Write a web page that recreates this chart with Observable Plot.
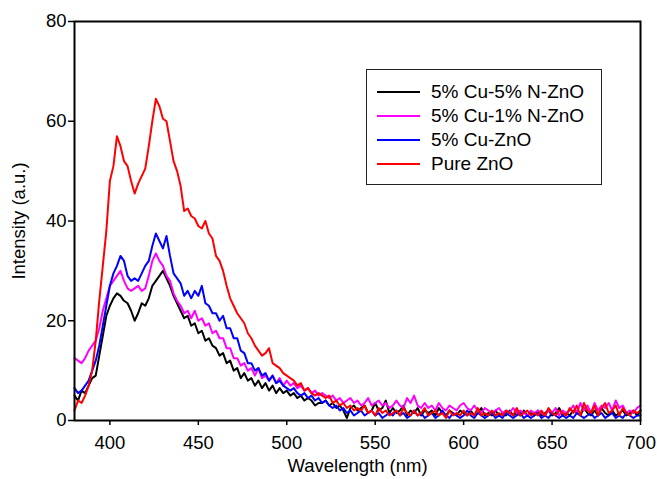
<!DOCTYPE html>
<html>
<head>
<meta charset="utf-8">
<script src="https://cdn.jsdelivr.net/npm/d3@7"></script>
<script src="https://cdn.jsdelivr.net/npm/@observablehq/plot@0.6"></script>
<style>
  html, body { margin: 0; padding: 0; background: #fff; }
  #wrap { position: relative; width: 657px; height: 479px; font-family: "Liberation Sans", Arial, Helvetica, sans-serif; }
  #legend { position: absolute; left: 366px; top: 69px; width: 236px; height: 116px; box-sizing: border-box;
            border: 1.5px solid #222; background: #fff; padding-top: 10px; }
  .row { display: flex; align-items: center; height: 24px; }
  .sw { width: 43px; height: 2.5px; margin-left: 10px; margin-right: 11px; }
  .lab { font-size: 19px; color: #000; white-space: nowrap; }
</style>
</head>
<body>
<div id="wrap"></div>
<script>
// Wavelength (nm), step 2 nm
const wavelengths = [
  380,382,384,386,388,390,392,394,396,398,
  400,402,404,406,408,410,412,414,416,418,
  420,422,424,426,428,430,432,434,436,438,
  440,442,444,446,448,450,452,454,456,458,
  460,462,464,466,468,470,472,474,476,478,
  480,482,484,486,488,490,492,494,496,498,
  500,502,504,506,508,510,512,514,516,518,
  520,522,524,526,528,530,532,534,536,538,
  540,542,544,546,548,550,552,554,556,558,
  560,562,564,566,568,570,572,574,576,578,
  580,582,584,586,588,590,592,594,596,598,
  600,602,604,606,608,610,612,614,616,618,
  620,622,624,626,628,630,632,634,636,638,
  640,642,644,646,648,650,652,654,656,658,
  660,662,664,666,668,670,672,674,676,678,
  680,682,684,686,688,690,692,694,696,698,
  700
];

const seriesNames = ["5% Cu-5% N-ZnO", "5% Cu-1% N-ZnO", "5% Cu-ZnO", "Pure ZnO"];
const seriesColors = ["#000000", "#ff00ff", "#0000ff", "#ff0000"];

const cu5n5 = [
  5,4,6,5.5,7,8.5,9,13,17,21,
  23,24.5,25.5,25,24,23.5,22,20,21.5,23.5,
  23,24.5,27,28,29,30,28.5,27,25,23.5,
  22,20.5,21,19,19.5,17.5,18,16,16.5,15,
  14.5,13,13.5,11.5,12,10,10.5,8.5,9.5,8,
  8.5,7,8,6.5,7.5,6,7,5.5,6.5,5.5,
  6,5,5.5,4.5,5,4,4.5,4,3,3.5,
  3.5,4,3,3.5,2.5,3,2,0.5,2.5,3,
  2,2.5,3,1.5,2,3.5,2,2.5,4,1.5,
  2.5,1.5,2,3,1,2,1.5,2.5,1,2,
  1.5,2,1,2.5,1.5,1,2,1.5,1,2,
  1.5,1,2,1,1.5,2.5,1,1.5,1,2,
  1,1.5,1,2,1,1.5,1,2,1,1.5,
  1,2,1,1.5,2,1,1.5,2.5,1,1.5,
  1,2,1.5,1,2.5,1.5,1,2,1,2.5,
  1.5,1,2,1,1.5,2,1,1.5,2,1,
  2
];

const cu5n1 = [
  12.5,12,11.5,12.5,14,15,16,18.5,22,24.5,
  27,28,29,30,28,26.5,26,26.5,27,26,
  26.5,29,32,33.5,32,31,29,28,25.5,24,
  23,21.5,22,20.5,22,20,20.5,19,19.5,17.5,
  18,16.5,16.5,14.5,14.5,12.5,12.5,11,11.5,10,
  10.5,9,10.5,8.5,9,8,9,7.5,8.5,7,
  8,7,7.5,6.5,7,6,6.5,5.5,6,5,
  5.5,5,4.5,5,4,4.5,3.5,4,4.5,3.5,
  4,3,3.5,4.5,3,3.5,4,3,3.5,2.5,
  3,4,3,2.5,4.5,3.5,5,3,2.5,3.5,
  2.5,3,2,3.5,2.5,2,3,2.5,2,3,
  3.5,2.5,2,3,2,1.5,2.5,2,1.5,2,
  2.5,1.5,2,1.5,2.5,1.5,2,1.5,1,2,
  1.5,2,1.5,1,2,1.5,2.5,1,2,1.5,
  2,3,1.5,3.5,2,3,1.5,3.5,2,3,
  2.5,3.5,2,4,2.5,3,1.5,2,1.5,2.5,
  3
];

const cu5 = [
  6.5,5.5,6,7,8,10,12,15,19,23,
  27,29.5,31,33,32,29,28,28.5,28,29.5,
  31,32,35,37.5,36,34.5,37,33,29.5,28.5,
  27.5,25,26,24.5,26,25,27,23.5,23,21.5,
  21.5,20,21,18.5,18.5,16.5,16.5,14,13.5,11.5,
  11.5,10,10.5,9,9.5,8,9,7.5,8,7,
  6.5,6,6.5,5.5,5,5.5,4.5,5,4,4.5,
  3.5,4,3,2.5,3,2,2.5,1.5,2,1,
  1.5,2,1,1.5,2,1,1.5,0.5,1,1.5,
  1,2,1,1.5,0.5,1,2,1,1.5,0.5,
  1,1.5,0.5,1,2,1,0.5,1.5,1,0.5,
  1,2,1,0.5,1.5,1,0.5,1,1.5,0.5,
  1,0.5,1.5,1,0.5,1,1.5,0.5,1,0.5,
  1,1.5,0.5,1,0.5,1.5,1,0.5,1,0.5,
  1,0.5,1.5,1,0.5,1,1.5,0.5,1,1.5,
  0.5,1,1.5,0.5,1,0.5,1.5,1,0.5,1,
  1
];

const pureZnO = [
  2,4,3.5,5,7,10,16,24,31,38,
  48,51,57,55,52,51,48,45.5,47.5,49,
  50.5,55,60,64.5,63,60.5,60,56,52,50,
  47,42,42.5,41,40.5,39,38.5,40,37.5,36.5,
  33,32,30,27,24.5,23,21.5,20.5,19.5,17.5,
  16.5,15,14,13,13.5,14.5,11.5,11,10.5,9.5,
  9,8.5,8,7,7.5,6,6.5,5.5,5,5.5,
  5,4.5,5,3.5,4,3,3.5,2.5,3,2,
  2.5,2,3,1.5,2,1,2.5,1.5,2,1,
  1.5,2,1,2.5,1.5,1,2,1,1.5,2.5,
  1,1.5,2,1,1.5,0.5,2,1,1.5,1,
  2,1,1.5,1,2.5,1,1.5,1,2,1,
  1.5,1,2,1.5,1,2.5,1,1.5,2,1,
  1.5,1,2,1,2.5,1.5,1,2,1.5,1,
  2.5,1.5,3,1,3.5,2,1.5,3,1,2.5,
  3.5,1.5,2,3,1,2.5,1.5,1,2,1.5,
  2
];

const xTicks = [400, 450, 500, 550, 600, 650, 700];
const yTicks = [0, 20, 40, 60, 80];

const allValues = [cu5n5, cu5n1, cu5, pureZnO];
const rows = [];
allValues.forEach((vals, s) => {
  vals.forEach((v, i) => rows.push({wl: wavelengths[i], intensity: v, series: seriesNames[s]}));
});

const chart = Plot.plot({
  width: 657,
  height: 479,
  marginLeft: 74,
  marginRight: 17,
  marginTop: 21,
  marginBottom: 59,
  style: {fontFamily: '"Liberation Sans", Arial, Helvetica, sans-serif', color: "#000", background: "#fff"},
  x: {domain: [380, 700]},
  y: {domain: [0, 80]},
  marks: [
    Plot.axisX({ticks: xTicks, tickSize: 5, tickPadding: 10, fontSize: 18.5, strokeWidth: 1.5,
      label: "Wavelength (nm)", labelAnchor: "center", labelArrow: "none", labelOffset: 51}),
    Plot.axisY({ticks: yTicks, tickSize: 6, tickPadding: 2, fontSize: 18.5, strokeWidth: 1.5,
      label: "Intensity (a.u.)", labelAnchor: "center", labelArrow: "none", labelOffset: 63}),
    ...seriesNames.map((name, s) =>
      Plot.lineY(rows.filter(d => d.series === name), {x: "wl", y: "intensity", stroke: seriesColors[s], strokeWidth: 2})
    ),
    Plot.frame({stroke: "#000", strokeWidth: 2})
  ]
});

const wrap = document.getElementById("wrap");
wrap.appendChild(chart);

const legend = document.createElement("div");
legend.id = "legend";
seriesNames.forEach((name, s) => {
  const row = document.createElement("div");
  row.className = "row";
  const sw = document.createElement("div");
  sw.className = "sw";
  sw.style.background = seriesColors[s];
  const lab = document.createElement("span");
  lab.className = "lab";
  lab.textContent = name;
  row.appendChild(sw);
  row.appendChild(lab);
  legend.appendChild(row);
});
wrap.appendChild(legend);
</script>
</body>
</html>
